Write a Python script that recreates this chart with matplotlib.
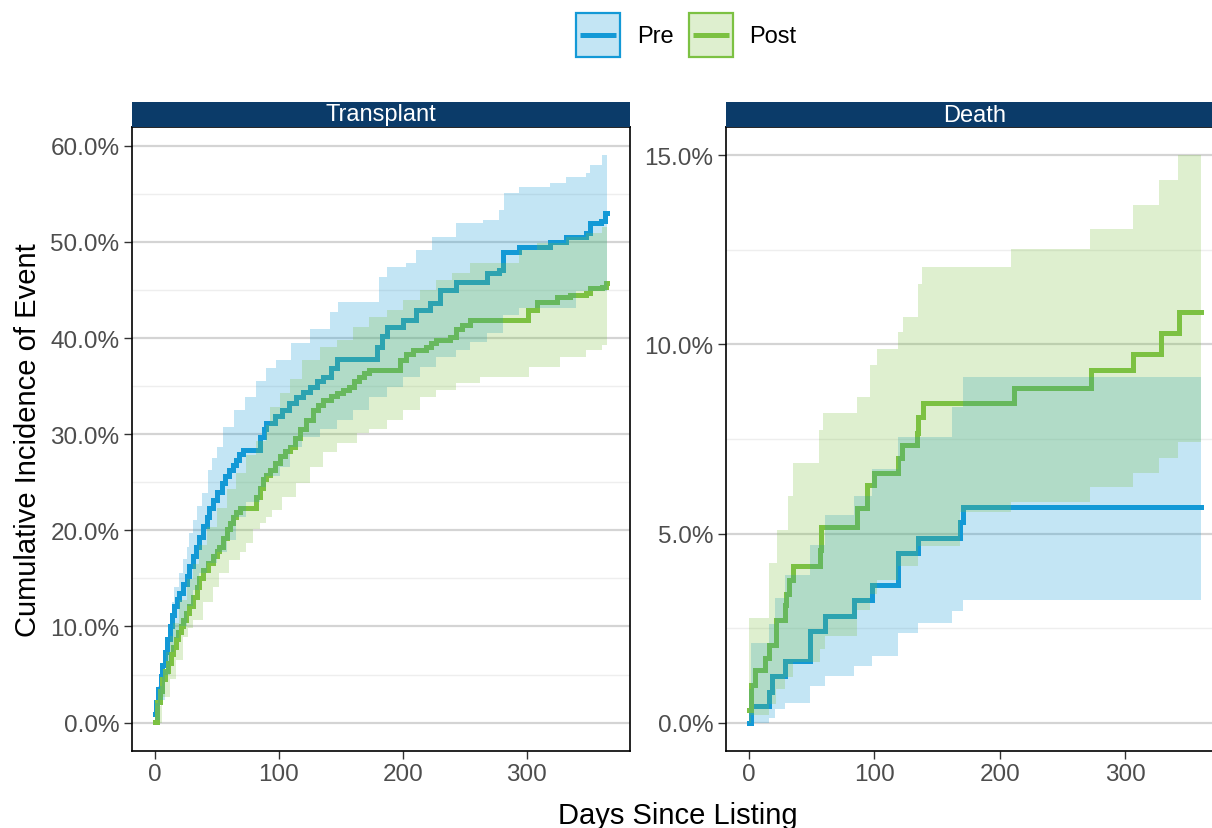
#Imports needed for the plot
import numpy as np
import matplotlib
matplotlib.use('Agg')
import matplotlib.pyplot as plt
from matplotlib.patches import Rectangle
from matplotlib.lines import Line2D
from matplotlib.ticker import PercentFormatter, MultipleLocator

# ---- Transplant panel (% cumulative incidence) ----
tx_pre_days = [0, 1, 3, 5, 6, 8, 10, 12, 14, 16, 18, 20, 23, 26, 28, 31, 33, 36, 39, 42, 44, 47, 50, 54, 57, 60, 63,
               66, 68, 71, 85, 88, 90, 97, 103, 108, 114, 120, 125, 131, 136, 142, 147, 179, 183, 187, 200, 211, 222,
               230, 243, 268, 278, 281, 294, 319, 332, 348, 351, 360, 363, 365]
tx_pre_cif = [0.9, 2.1, 3.5, 4.8, 6.0, 7.3, 8.7, 10.0, 11.2, 12.1, 12.9, 13.5, 14.4, 15.2, 16.3, 17.3, 18.3, 19.3,
              20.4, 21.4, 22.3, 23.2, 24.0, 24.9, 25.6, 26.3, 26.8, 27.3, 27.9, 28.4, 29.7, 30.5, 31.2, 31.9, 32.5,
              33.2, 33.9, 34.4, 34.9, 35.5, 36.0, 36.9, 37.8, 39.1, 40.2, 41.2, 41.9, 42.9, 43.6, 45.0, 45.8, 46.8,
              47.1, 49.0, 49.5, 50.0, 50.5, 50.9, 52.0, 52.2, 53.0, 53.0]
tx_pre_hi_days = [0, 3, 6, 9, 12, 14, 16, 20, 23, 26, 28, 31, 34, 38, 43, 46, 50, 55, 64, 73, 82, 90, 98, 110, 125,
                  141, 148, 181, 187, 203, 211, 224, 243, 265, 278, 282, 294, 319, 332, 348, 351, 361, 365]
tx_pre_hi = [2.0, 3.8, 5.5, 7.9, 10.7, 12.5, 14.1, 15.6, 17.0, 18.3, 19.7, 21.1, 22.5, 23.9, 26.3, 27.5, 28.7, 30.8,
             32.5, 33.9, 35.5, 36.9, 37.7, 39.5, 40.9, 42.7, 43.8, 46.4, 47.4, 47.8, 49.2, 50.5, 52.0, 52.3, 53.3,
             55.1, 55.7, 56.1, 56.7, 57.2, 58.0, 59.0, 59.0]
tx_pre_lo_days = [0, 4, 8, 12, 16, 20, 26, 31, 36, 42, 50, 58, 66, 74, 85, 90, 101, 109, 119, 133, 147, 160, 173,
                  187, 200, 214, 227, 243, 254, 268, 281, 294, 340, 365]
tx_pre_lo = [0.3, 2.4, 5.0, 7.3, 8.8, 10.0, 12.1, 13.8, 15.6, 16.6, 17.7, 19.0, 21.4, 22.9, 24.5, 25.6, 26.6, 28.7,
             29.7, 30.5, 31.5, 32.5, 33.9, 34.9, 36.0, 37.0, 38.0, 38.8, 39.6, 40.5, 42.4, 43.1, 44.9, 44.9]

tx_post_days = [0, 2, 4, 6, 8, 11, 13, 15, 17, 19, 21, 23, 25, 28, 31, 34, 36, 39, 43, 47, 50, 52, 55, 58, 61, 63,
                66, 69, 82, 85, 87, 90, 93, 97, 101, 105, 109, 113, 117, 122, 128, 132, 136, 142, 147, 152, 157, 161,
                165, 169, 173, 198, 203, 208, 219, 223, 227, 238, 243, 248, 254, 301, 308, 324, 335, 348, 351, 361,
                364, 365]
tx_post_cif = [0.1, 2.1, 3.3, 4.5, 5.4, 6.2, 7.1, 7.9, 8.7, 9.4, 10.0, 10.7, 11.4, 12.1, 13.1, 14.1, 15.0, 15.9, 16.6,
               17.3, 17.8, 18.3, 19.2, 20.1, 20.8, 21.4, 21.9, 22.3, 23.5, 24.4, 25.3, 25.8, 26.3, 27.0, 27.7, 28.2,
               28.7, 29.6, 30.5, 31.5, 32.5, 33.0, 33.6, 34.0, 34.3, 34.6, 34.9, 35.5, 36.0, 36.4, 36.7, 37.7, 38.3,
               38.8, 39.1, 39.5, 39.8, 40.1, 40.9, 41.4, 41.9, 42.9, 43.8, 44.3, 44.5, 44.7, 45.2, 45.3, 45.7, 45.7]
tx_post_hi_days = [0, 5, 9, 12, 15, 20, 26, 31, 36, 42, 50, 58, 66, 74, 82, 90, 93, 101, 109, 119, 133, 147, 160,
                   173, 187, 200, 214, 227, 240, 254, 294, 308, 332, 348, 361, 365]
tx_post_hi = [1.7, 4.5, 7.3, 9.0, 10.4, 12.8, 14.9, 16.5, 18.5, 20.3, 22.3, 24.3, 26.0, 27.8, 29.3, 31.0, 32.8, 34.3,
              35.7, 37.7, 39.1, 39.8, 41.2, 42.2, 42.9, 44.0, 45.0, 46.0, 46.8, 47.8, 49.2, 49.9, 50.5, 50.9, 51.6,
              51.6]
tx_post_lo_days = [0, 6, 12, 17, 23, 27, 31, 39, 47, 52, 60, 69, 74, 79, 85, 90, 95, 103, 114, 125, 136, 147, 163,
                   173, 187, 200, 214, 227, 243, 262, 302, 327, 348, 361, 365]
tx_post_lo = [0.0, 2.7, 4.5, 6.5, 8.9, 9.8, 10.7, 12.5, 14.1, 15.6, 16.9, 17.7, 18.7, 20.1, 20.8, 21.4, 22.1, 23.5,
              24.9, 26.6, 28.1, 29.1, 30.1, 30.5, 31.5, 32.5, 33.9, 34.6, 35.3, 36.0, 37.0, 38.0, 38.8, 39.3, 39.3]

# ---- Death panel ----
dth_pre_days = [0, 2, 16, 19, 29, 49, 61, 84, 98, 119, 135, 168, 171, 360.5]
dth_pre_cif = [0.0, 0.43, 0.8, 1.22, 1.62, 2.41, 2.81, 3.25, 3.64, 4.48, 4.88, 5.3, 5.71, 5.71]
dth_pre_hi_days = [0, 2, 16, 21, 29, 49, 61, 84, 98, 119, 162, 171, 360.5]
dth_pre_hi = [0.9, 2.1, 2.6, 3.3, 3.9, 4.7, 5.5, 6.0, 6.7, 7.56, 8.35, 9.14, 9.14]
dth_pre_lo_days = [0, 16, 21, 29, 49, 61, 84, 98, 119, 135, 162, 171, 360.5]
dth_pre_lo = [0.0, 0.13, 0.35, 0.53, 0.96, 1.22, 1.49, 1.75, 2.37, 2.63, 2.94, 3.25, 3.25]

dth_post_days = [0, 2, 5, 13, 16, 22, 29, 30, 32, 35, 57, 58, 86, 94, 100, 119, 122, 134, 135, 139, 211, 273, 306,
                 328, 343, 360.5]
dth_post_cif = [0.34, 1.0, 1.4, 1.72, 2.06, 2.72, 3.12, 3.4, 3.78, 4.13, 4.57, 5.18, 5.67, 6.28, 6.6, 6.99, 7.34,
                7.65, 8.09, 8.44, 8.84, 9.32, 9.76, 10.29, 10.86, 10.86]
dth_post_hi_days = [0, 16, 23, 31, 35, 56, 59, 86, 97, 102, 119, 123, 135, 138, 209, 272, 306, 327, 342, 360.5]
dth_post_hi = [2.76, 4.22, 5.1, 5.98, 6.86, 7.74, 8.18, 8.62, 9.45, 9.89, 10.33, 10.73, 11.61, 12.05, 12.53, 13.06,
               13.68, 14.34, 15.0, 15.0]
dth_post_lo_days = [0, 2, 16, 22, 29, 35, 57, 61, 86, 97, 102, 119, 135, 168, 209, 272, 306, 327, 342, 360.5]
dth_post_lo = [0.0, 0.2, 0.5, 0.9, 1.2, 1.6, 1.95, 2.3, 2.98, 3.4, 3.78, 4.13, 4.66, 5.58, 5.84, 6.24, 6.59, 6.99,
               7.43, 7.43]

groups = ['Pre', 'Post']
colors = {'Pre': '#1399d6', 'Post': '#7cc142'}
strip_color = '#0b3b69'
FONT = 'Liberation Sans'
W, H = 1212, 829


def step_lookup(days, vals, grid):
    '''
    Value of a right-continuous step function at each grid day
    '''
    idx = np.searchsorted(days, grid, side='right') - 1
    return np.asarray(vals)[np.clip(idx, 0, None)]


def draw_panel(ax, title, curves, xlim, ylim, major, minor):
    '''
    Draw one facet: step lines first, then the ribbons on top (like ggplot order)

    Inputs
    |   curves: dict group -> (days, cif, lo_days, lo, hi_days, hi)
    '''
    for g in groups:
        days, cif = curves[g][0], curves[g][1]
        ax.step(days, cif, where='post', color=colors[g], lw=3.6, zorder=2, solid_joinstyle='miter')
    for z, g in enumerate(groups):
        _, _, lo_days, lo, hi_days, hi = curves[g]
        grid = np.union1d(lo_days, hi_days)
        ax.fill_between(grid, step_lookup(lo_days, lo, grid), step_lookup(hi_days, hi, grid),
                        step='post', color=colors[g], alpha=0.25, lw=0, zorder=3 + z)
    ax.set_xlim(*xlim)
    ax.set_ylim(*ylim)
    ax.set_xticks([0, 100, 200, 300])
    ax.yaxis.set_major_locator(MultipleLocator(major))
    ax.yaxis.set_minor_locator(MultipleLocator(minor))
    ax.yaxis.set_major_formatter(PercentFormatter(xmax=100, decimals=1))
    # horizontal grid only
    ax.grid(axis='y', which='major', color='#d4d4d4', lw=1.6, zorder=0)
    ax.grid(axis='y', which='minor', color='#eeeeee', lw=1.0, zorder=0)
    ax.set_axisbelow(True)
    ax.tick_params(axis='both', which='major', length=6, width=1.0, color='#333333',
                   labelsize=17.5, labelcolor='#4d4d4d', pad=3)
    ax.tick_params(axis='y', which='minor', length=0)
    for lab in ax.get_xticklabels() + ax.get_yticklabels():
        lab.set_fontfamily(FONT)
    for s in ax.spines.values():
        s.set_color('black')
        s.set_linewidth(1.2)
    # facet strip
    strip_h = 25 / 624
    ax.add_patch(Rectangle((0, 1), 1, strip_h, transform=ax.transAxes, facecolor=strip_color,
                           edgecolor='none', clip_on=False, zorder=5))
    ax.text(0.5, 1 + strip_h / 2, title, transform=ax.transAxes, ha='center', va='center',
            color='white', fontsize=17, family=FONT, zorder=6)


def draw_legend(fig):
    '''
    ggplot-like legend keys: tinted square with coloured border and a line through it
    '''
    key_left = {'Pre': 576, 'Post': 689}
    text_left = {'Pre': 637, 'Post': 749}
    top, size = 14, 44
    for g in groups:
        x0 = key_left[g]
        fig.patches.append(Rectangle((x0 / W, (H - top - size) / H), size / W, size / H,
                                     transform=fig.transFigure, facecolor=matplotlib.colors.to_rgba(colors[g], 0.25),
                                     edgecolor=colors[g], lw=1.6))
        fig.lines.append(Line2D([(x0 + 4) / W, (x0 + size - 4) / W], [(H - 36) / H] * 2,
                                transform=fig.transFigure, color=colors[g], lw=3.6, solid_capstyle='butt'))
        fig.text(text_left[g] / W, (H - 37) / H, g, ha='left', va='center', fontsize=17, family=FONT)


def main():
    fig = plt.figure(figsize=(W / 100, H / 100), dpi=100)
    bottom = (H - 752) / H
    height = 624 / H
    ax1 = fig.add_axes([132 / W, bottom, 498 / W, height])
    ax2 = fig.add_axes([726 / W, bottom, 498 / W, height])

    transplant = {'Pre': (tx_pre_days, tx_pre_cif, tx_pre_lo_days, tx_pre_lo, tx_pre_hi_days, tx_pre_hi),
                  'Post': (tx_post_days, tx_post_cif, tx_post_lo_days, tx_post_lo, tx_post_hi_days, tx_post_hi)}
    death = {'Pre': (dth_pre_days, dth_pre_cif, dth_pre_lo_days, dth_pre_lo, dth_pre_hi_days, dth_pre_hi),
             'Post': (dth_post_days, dth_post_cif, dth_post_lo_days, dth_post_lo, dth_post_hi_days, dth_post_hi)}

    draw_panel(ax1, 'Transplant', transplant, (-18.25, 383.25), (-2.95, 61.95), 10, 5)
    draw_panel(ax2, 'Death', death, (-18.0, 378.5), (-0.75, 15.75), 5, 2.5)

    # axis titles
    fig.text(28 / W, (H - 440) / H, 'Cumulative Incidence of Event', rotation=90, ha='center', va='center',
             fontsize=21, family=FONT)
    fig.text(678 / W, (H - 816) / H, 'Days Since Listing', ha='center', va='center', fontsize=21, family=FONT)

    draw_legend(fig)

    fig.savefig('out.png', dpi=100)


if __name__ == '__main__':
    main()
